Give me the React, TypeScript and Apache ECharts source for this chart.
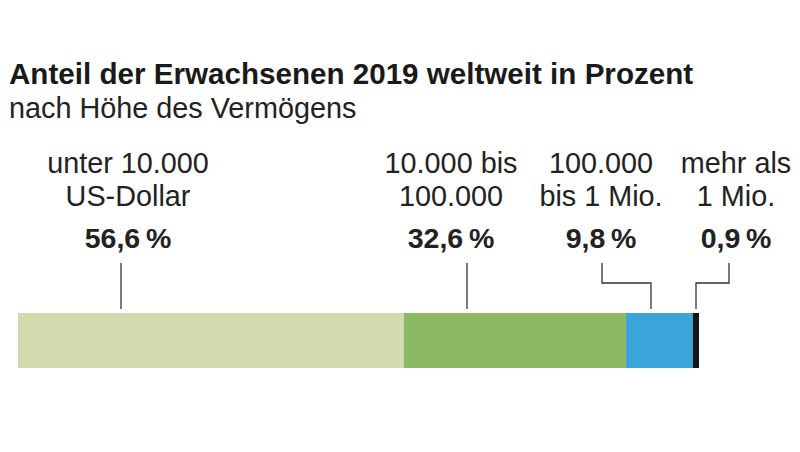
import React, { useEffect, useRef } from "react";
import * as echarts from "echarts";

const categories = [
  "unter 10.000 US-Dollar",
  "10.000 bis 100.000",
  "100.000 bis 1 Mio.",
  "mehr als 1 Mio.",
];
const labelLines = [
  ["unter 10.000", "US-Dollar"],
  ["10.000 bis", "100.000"],
  ["100.000", "bis 1 Mio."],
  ["mehr als", "1 Mio."],
];
const shares = [56.6, 32.6, 9.8, 0.9];
const colors = ["#d1dbae", "#8cb964", "#3aa5d8", "#151515"];

const titleText = "Anteil der Erwachsenen 2019 weltweit in Prozent";
const subtitleText = "nach Höhe des Vermögens";

const fmt = (v: number) => v.toFixed(1).replace(".", ",") + "\u2009%";

const FONT = '"Liberation Sans", Arial, Helvetica, sans-serif';

export default function App() {
  const ref = useRef<HTMLDivElement>(null);

  useEffect(() => {
    if (!ref.current) return;
    const chart = echarts.init(ref.current, undefined, { renderer: "svg" });
    const total = shares.reduce((a, b) => a + b, 0);

    // layout of annotation groups (text centers and connector paths)
    const groupX = [128, 451, 601, 736];
    const rowY = [163, 196, 238];
    const connectors: number[][][] = [
      [[121, 263], [121, 309]],
      [[467, 263], [467, 309]],
      [[602, 263], [602, 283], [651, 283], [651, 309]],
      [[729, 263], [729, 283], [696, 283], [696, 309]],
    ];

    const graphics: any[] = [];
    labelLines.forEach((lines, i) => {
      lines.forEach((t, j) => {
        graphics.push({
          type: "text",
          x: groupX[i],
          y: rowY[j],
          silent: true,
          style: {
            text: t,
            fill: "#222",
            font: `28.8px ${FONT}`,
            align: "center",
            verticalAlign: "middle",
          },
        });
      });
      graphics.push({
        type: "text",
        x: groupX[i],
        y: rowY[2],
        silent: true,
        style: {
          text: fmt(shares[i]),
          fill: "#222",
          font: `bold 28.5px ${FONT}`,
          align: "center",
          verticalAlign: "middle",
        },
      });
    });
    connectors.forEach((pts) => {
      graphics.push({
        type: "polyline",
        silent: true,
        shape: { points: pts },
        style: { stroke: "#333", lineWidth: 1.3, fill: null },
      });
    });

    chart.setOption({
      animation: false,
      backgroundColor: "#ffffff",
      title: {
        text: titleText,
        subtext: subtitleText,
        left: 4,
        top: 53,
        itemGap: 5,
        textStyle: {
          fontFamily: FONT,
          fontSize: 29.6,
          fontWeight: "bold",
          color: "#1a1a1a",
          lineHeight: 30,
        },
        subtextStyle: {
          fontFamily: FONT,
          fontSize: 28.8,
          color: "#222",
          lineHeight: 30,
        },
      },
      grid: { left: 18, top: 313, height: 55, right: 800 - 699 },
      xAxis: {
        type: "value",
        min: 0,
        max: total,
        show: false,
      },
      yAxis: {
        type: "category",
        data: ["Erwachsene"],
        show: false,
      },
      series: shares.map((v, i) => ({
        type: "bar",
        name: categories[i],
        stack: "total",
        data: [v],
        barWidth: "100%",
        itemStyle: { color: colors[i] },
        silent: true,
      })),
      graphic: graphics,
    });

    return () => chart.dispose();
  }, []);

  return (
    <div
      ref={ref}
      style={{ position: "fixed", left: 0, top: 0, width: 800, height: 452 }}
    />
  );
}
